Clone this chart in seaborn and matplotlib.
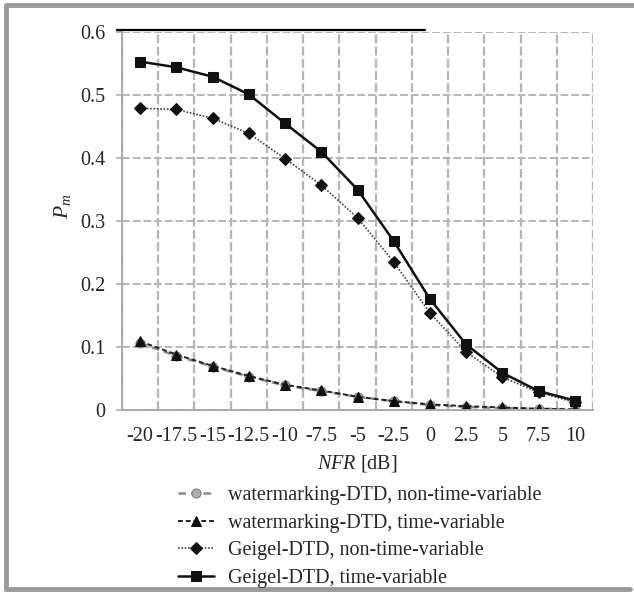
import matplotlib
matplotlib.use("Agg")
import matplotlib.pyplot as plt
import numpy as np
import pandas as pd
import seaborn as sns
from matplotlib.lines import Line2D

nfr = [-20, -17.5, -15, -12.5, -10, -7.5, -5, -2.5, 0, 2.5, 5, 7.5, 10]
nfr_labels = ["-20", "-17.5", "-15", "-12.5", "-10", "-7.5", "-5", "-2.5", "0",
              "2.5", "5", "7.5", "10"]
wm_ntv = [0.106, 0.086, 0.069, 0.053, 0.039, 0.030, 0.021, 0.014, 0.008,
          0.005, 0.003, 0.002, 0.001]
wm_tv = [0.109, 0.088, 0.070, 0.054, 0.040, 0.031, 0.021, 0.014, 0.009,
         0.006, 0.004, 0.002, 0.001]
geigel_ntv = [0.479, 0.477, 0.463, 0.439, 0.399, 0.357, 0.305, 0.235, 0.154,
              0.092, 0.052, 0.028, 0.012]
geigel_tv = [0.553, 0.544, 0.529, 0.501, 0.455, 0.410, 0.350, 0.268, 0.176,
             0.104, 0.059, 0.030, 0.015]
series_names = ["watermarking-DTD, non-time-variable",
                "watermarking-DTD, time-variable",
                "Geigel-DTD, non-time-variable",
                "Geigel-DTD, time-variable"]

if __name__ == "__main__":
    sns.set_style("white")
    plt.rcParams["font.family"] = ["Liberation Serif", "DejaVu Serif"]
    plt.rcParams["mathtext.fontset"] = "custom"
    plt.rcParams["mathtext.it"] = "Liberation Serif:italic"
    plt.rcParams["mathtext.rm"] = "Liberation Serif"

    pos = np.arange(len(nfr))
    df = pd.DataFrame({
        "pos": np.tile(pos, 4),
        "pm": wm_ntv + wm_tv + geigel_ntv + geigel_tv,
        "series": np.repeat(series_names, len(nfr)),
    })

    fig = plt.figure(figsize=(6.34, 5.99), dpi=100)
    ax = fig.add_axes([122 / 634, 1 - 410 / 599, 471 / 634, 378 / 599])

    styles = {
        series_names[0]: dict(color="#8a8a8a", ls=(0, (3, 2)), lw=1.8, marker="o",
                              ms=6.5, mfc="#b0b0b0", mec="#7a7a7a"),
        series_names[1]: dict(color="#222222", ls=(0, (2.5, 1.5)), lw=1.4, marker="^",
                              ms=7.5, mfc="#111111", mec="#111111"),
        series_names[2]: dict(color="#444444", ls=(0, (1, 1)), lw=1.2, marker="D",
                              ms=6, mfc="#111111", mec="#111111"),
        series_names[3]: dict(color="#111111", ls="-", lw=1.8, marker="s",
                              ms=6.5, mfc="#111111", mec="#111111"),
    }
    for name in series_names:
        st = styles[name]
        sns.lineplot(data=df[df["series"] == name], x="pos", y="pm", ax=ax,
                     color=st["color"], linestyle=st["ls"], linewidth=st["lw"],
                     marker=st["marker"], markersize=st["ms"],
                     markerfacecolor=st["mfc"], markeredgecolor=st["mec"],
                     label=name)

    ax.set_xlim(-0.5, len(nfr) - 0.5)
    ax.set_ylim(0, 0.6)
    ax.set_xticks(pos)
    ax.set_xticklabels(nfr_labels, fontsize=14.5)
    ax.set_xticks(np.arange(-0.5, len(nfr), 1), minor=True)
    ax.tick_params(axis="x", which="major", length=0, pad=12)
    ax.tick_params(axis="x", which="minor", length=4, color="#aaaaaa", width=1.2)
    ax.set_yticks([0, 0.1, 0.2, 0.3, 0.4, 0.5, 0.6])
    ax.set_yticklabels(["0", "0.1", "0.2", "0.3", "0.4", "0.5", "0.6"], fontsize=14.5)
    ax.tick_params(axis="y", length=4, color="#aaaaaa", width=1.2, pad=8, left=True)

    ax.grid(False)
    ax.grid(True, axis="x", which="minor", color="#b5b5b5", ls=(0, (4, 1.5)), lw=1.6)
    ax.grid(True, axis="y", which="major", color="#b5b5b5", ls=(0, (4, 1.5)), lw=1.4)
    ax.set_axisbelow(True)
    for side in ["top", "right"]:
        ax.spines[side].set_visible(False)
    for side in ["left", "bottom"]:
        ax.spines[side].set_color("#aaaaaa")
        ax.spines[side].set_linewidth(1.4)

    ax.set_xlabel("$NFR$ [dB]", fontsize=14.5, labelpad=5)
    ax.set_ylabel("$P_m$", fontsize=15.5)
    ax.yaxis.set_label_coords(-0.105, 0.54)

    handles, labels = ax.get_legend_handles_labels()
    ax.get_legend().remove()
    fig.legend(handles, labels, loc="upper left", bbox_to_anchor=(170 / 634, 1 - 478 / 599),
               frameon=False, fontsize=14.5, handlelength=1.8, handletextpad=0.7,
               labelspacing=0.42, borderaxespad=0)

    # stray black rule along the top edge and grey page border
    fig.add_artist(Line2D([117 / 634, 425 / 634], [1 - 30 / 599, 1 - 30 / 599],
                          transform=fig.transFigure, color="black", lw=1.6))
    fig.add_artist(Line2D([6 / 634, 6 / 634, 1.0], [1 - 589 / 599, 1 - 5 / 599, 1 - 5 / 599],
                          transform=fig.transFigure, color="#999999", lw=3.5))
    fig.add_artist(Line2D([6 / 634, 630 / 634], [1 - 589 / 599, 1 - 589 / 599],
                          transform=fig.transFigure, color="#999999", lw=3.5))

    fig.savefig("out.png", dpi=100)
